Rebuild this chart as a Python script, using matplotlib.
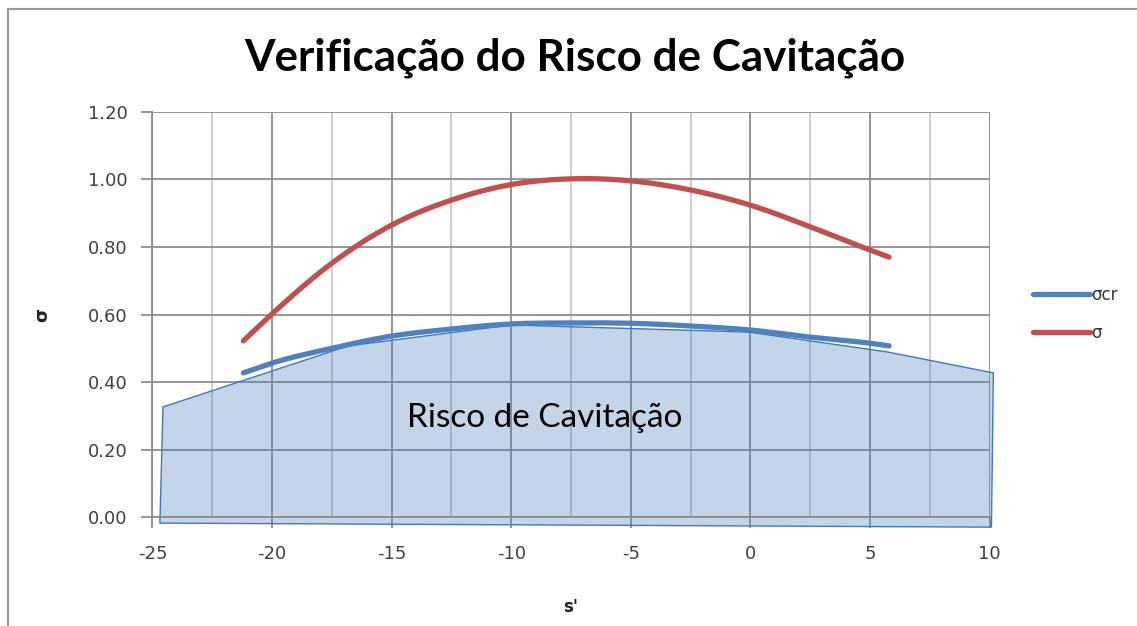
import numpy as np
import matplotlib
matplotlib.use("Agg")
import matplotlib.pyplot as plt
from matplotlib.patches import Polygon
from matplotlib.lines import Line2D

# s' positions of the computed points
s_values = [-21.2, -20.0, -17.5, -15.0, -12.5, -10.0, -7.5, -5.0, -2.5, 0.0, 2.5, 5.0, 5.8]
# critical cavitation coefficient
sigma_cr = [0.427, 0.456, 0.500, 0.536, 0.557, 0.572, 0.575, 0.574, 0.566, 0.554, 0.533, 0.515, 0.507]
# plant cavitation coefficient
sigma = [0.522, 0.602, 0.752, 0.865, 0.939, 0.985, 1.002, 0.996, 0.969, 0.924, 0.860, 0.791, 0.770]

# outline of the cavitation-risk region (s', sigma)
risk_s = [-24.69, -24.56, -16.82, -10.0, -0.08, 5.73, 10.16, 10.08]
risk_sigma = [-0.018, 0.326, 0.507, 0.569, 0.548, 0.489, 0.427, -0.030]

x_ticks = [-25, -20, -15, -10, -5, 0, 5, 10]
y_ticks = [0.0, 0.2, 0.4, 0.6, 0.8, 1.0, 1.2]

BLUE = "#4F81BD"
RED = "#C0504D"


def smooth(x, y, n=30):
    """Cubic Hermite rendering of a smoothed line through the given points."""
    x = np.asarray(x, float)
    y = np.asarray(y, float)
    h = np.diff(x)
    d = np.diff(y) / h
    m = np.empty_like(y)
    m[0], m[-1] = d[0], d[-1]
    m[1:-1] = (h[1:] * d[:-1] + h[:-1] * d[1:]) / (h[:-1] + h[1:])
    xs, ys = [], []
    t = np.linspace(0, 1, n, endpoint=False)
    for i in range(len(x) - 1):
        h00 = 2 * t ** 3 - 3 * t ** 2 + 1
        h10 = t ** 3 - 2 * t ** 2 + t
        h01 = -2 * t ** 3 + 3 * t ** 2
        h11 = t ** 3 - t ** 2
        xs.extend(x[i] + t * h[i])
        ys.extend(h00 * y[i] + h10 * h[i] * m[i] + h01 * y[i + 1] + h11 * h[i] * m[i + 1])
    xs.append(x[-1])
    ys.append(y[-1])
    return np.array(xs), np.array(ys)


fig = plt.figure(figsize=(11.37, 6.26), dpi=100)
ax = fig.add_axes([0.1341, 0.1741, 0.7362, 0.6470])

ax.set_xlim(-25, 10)
ax.set_ylim(0, 1.2)
ax.set_xticks(x_ticks)
ax.set_xticks(np.arange(-22.5, 10, 5), minor=True)
ax.set_yticks(y_ticks)
ax.set_yticklabels([f"{v:.2f}" for v in y_ticks])
ax.set_xticklabels([str(v) for v in x_ticks])

ax.grid(True, which="major", color="#8C8C8C", linewidth=1.3, zorder=0)
ax.grid(True, which="minor", axis="x", color="#C8C8C8", linewidth=1.3, zorder=0)
ax.set_axisbelow(True)

for side in ("top", "right"):
    ax.spines[side].set_visible(False)
for side in ("left", "bottom"):
    ax.spines[side].set_color("#8C8C8C")
    ax.spines[side].set_linewidth(1.3)

ax.tick_params(axis="both", which="major", direction="out", length=8, width=1.3,
               color="#8C8C8C", labelsize=13, labelcolor="#404040", pad=10)
ax.tick_params(axis="x", which="minor", length=0)
ax.tick_params(axis="x", which="major", pad=12)

# cavitation-risk region
region = Polygon(np.column_stack([risk_s, risk_sigma]), closed=True,
                 facecolor=(0.31, 0.506, 0.741, 0.33), edgecolor="#3F78C0",
                 linewidth=1.0, clip_on=False, zorder=2)
ax.add_patch(region)

xs, ys = smooth(s_values, sigma_cr)
ax.plot(xs, ys, color=BLUE, linewidth=3.8, solid_capstyle="round", zorder=3, label="σcr")
xs, ys = smooth(s_values, sigma)
ax.plot(xs, ys, color=RED, linewidth=3.8, solid_capstyle="round", zorder=3, label="σ")

ax.text(-8.62, 0.293, "Risco de Cavitação", fontsize=24, family="Lato",
        ha="center", va="center", color="black", zorder=4)

ax.set_xlabel("s'", fontsize=12, fontweight="bold", color="#222222", labelpad=25)
ax.set_ylabel("σ", fontsize=13, fontweight="bold", color="#222222", labelpad=26)

fig.text(0.5057, 0.907, "Verificação do Risco de Cavitação", fontsize=31.7,
         fontweight="bold", family="Lato", ha="center", va="center", color="black")

leg = ax.legend(loc="center left", bbox_to_anchor=(0.9085, 0.4984),
                bbox_transform=fig.transFigure, frameon=False, fontsize=12,
                handlelength=3.4, handletextpad=0.1, labelspacing=1.2,
                borderpad=0, borderaxespad=0)
for txt in leg.get_texts():
    txt.set_color("#333333")

# chart frame
fig.add_artist(Line2D([8 / 1137, 1.0], [1 - 9 / 626, 1 - 9 / 626],
                      transform=fig.transFigure, color="#9A9A9A", linewidth=1.5))
fig.add_artist(Line2D([8 / 1137, 8 / 1137], [0.0, 1 - 9 / 626],
                      transform=fig.transFigure, color="#9A9A9A", linewidth=1.5))

fig.savefig("out.png", dpi=100, facecolor="white")
